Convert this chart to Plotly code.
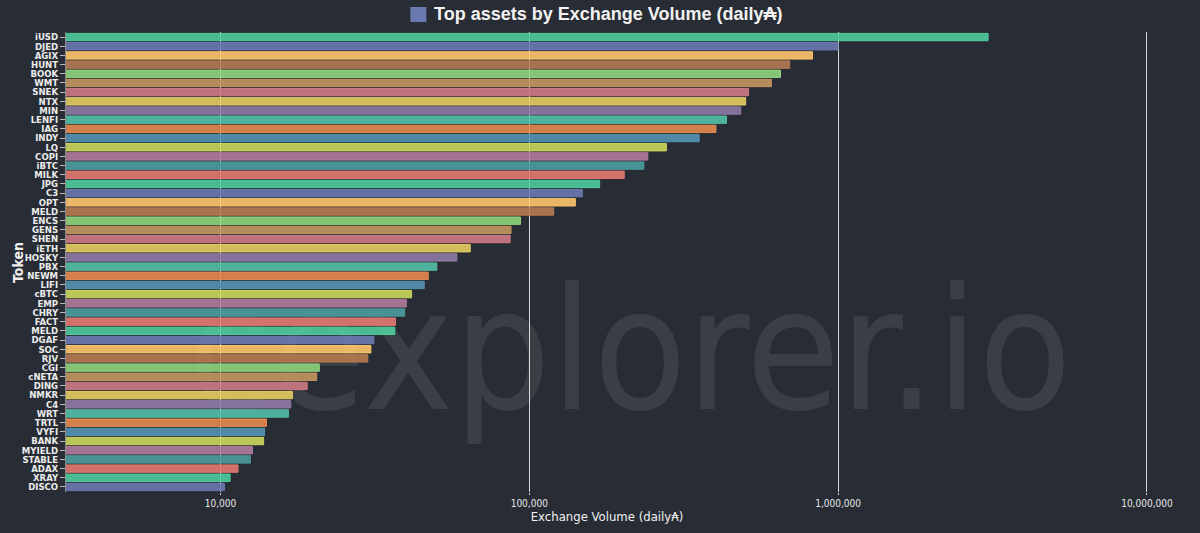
import plotly.graph_objects as go

tokens = ["iUSD", "DJED", "AGIX", "HUNT", "BOOK", "WMT", "SNEK", "NTX", "MIN", "LENFI",
          "IAG", "INDY", "LQ", "COPI", "iBTC", "MILK", "JPG", "C3", "OPT", "MELD",
          "ENCS", "GENS", "SHEN", "iETH", "HOSKY", "PBX", "NEWM", "LIFI", "cBTC", "EMP",
          "CHRY", "FACT", "MELD", "DGAF", "SOC", "RJV", "CGI", "cNETA", "DING", "NMKR",
          "C4", "WRT", "TRTL", "VYFI", "BANK", "MYIELD", "STABLE", "ADAX", "XRAY", "DISCO"]

volumes = [3060000, 1000000, 826000, 697000, 651000, 608000, 513000, 502000, 484000, 435000,
           402000, 355000, 278000, 242000, 235000, 203000, 169000, 148500, 141000, 120000,
           93700, 87300, 86700, 64400, 58300, 50200, 47100, 45700, 41600, 40000,
           39500, 36900, 36700, 31400, 30700, 30000, 20900, 20500, 19100, 17100,
           16900, 16600, 14100, 13900, 13800, 12700, 12500, 11400, 10750, 10300]

palette = ["#4fcc9c", "#6b79b1", "#fdc56c", "#b77a51", "#8fd47e", "#c3965f", "#cd7a84", "#e4cd62",
           "#8f7aa6", "#53bfa7", "#e68a4f", "#5393b1", "#cbd65c", "#b07b9b", "#4b9c9e", "#e3796f"]

x_tick_vals = [10000, 100000, 1000000, 10000000]
x_tick_text = ["10,000", "100,000", "1,000,000", "10,000,000"]

chart_title = "Top assets by Exchange Volume (daily₳)"
x_title = "Exchange Volume (daily₳)"
y_title = "Token"
watermark = "cexplorer.io"

BG = "#282c34"
COND = "DejaVu Sans Condensed, DejaVu Sans, sans-serif"

# plot area in pixels (for paper-coordinate conversions of decorations)
PL, PR, PT, PB = 66, 1147, 32, 492
PW, PH = PR - PL, PB - PT


def hex_rgba(h, a):
    h = h.lstrip("#")
    r, g, b = int(h[0:2], 16), int(h[2:4], 16), int(h[4:6], 16)
    return f"rgba({r},{g},{b},{a})"


ypos = list(range(len(tokens)))
colors = [palette[i % len(palette)] for i in ypos]
fills = [hex_rgba(c, 0.9) for c in colors]

fig = go.Figure()

# watermark on base subplot (drawn below bars)
fig.add_trace(go.Scatter(
    x=[(1071 - PL) / PW], y=[(PB - 366) / PH], mode="text", text=[watermark],
    textposition="middle left",
    textfont=dict(size=170, family=COND, color="rgba(255,255,255,0.085)"),
    hoverinfo="skip", showlegend=False, cliponaxis=False, xaxis="x", yaxis="y"))

fig.add_trace(go.Bar(
    x=volumes, y=ypos, orientation="h", width=0.8,
    marker=dict(color=fills, line=dict(color=colors, width=1)),
    showlegend=False, xaxis="x2", yaxis="y2",
    hovertext=tokens, hoverinfo="text+x"))

fig.update_layout(
    width=1200, height=533,
    paper_bgcolor=BG, plot_bgcolor=BG,
    margin=dict(l=PL, r=1200 - PR - 1, t=PT, b=533 - PB),
    showlegend=False,
    xaxis=dict(range=[0, 1], visible=False, fixedrange=True),
    yaxis=dict(range=[0, 1], visible=False, fixedrange=True),
    xaxis2=dict(
        overlaying="x", anchor="y2", side="bottom", automargin=False,
        type="log", range=[3.5, 7.0035],
        tickvals=x_tick_vals, ticktext=x_tick_text,
        showgrid=True, gridcolor="#d6d6d6", gridwidth=1,
        ticks="outside", ticklen=2, tickcolor="#d6d6d6",
        tickfont=dict(family=COND, size=10, color="#e6e6e6"),
        zeroline=False, showline=False,
        title=dict(text=x_title, standoff=2,
                   font=dict(family=COND, size=13, color="#f0f0f0")),
    ),
    yaxis2=dict(
        overlaying="y", anchor="x2", automargin=False,
        range=[len(tokens) - 0.45, -0.55],
        tickvals=ypos, ticktext=tokens,
        showgrid=False, zeroline=False,
        showline=True, linecolor="#8a8a8a", linewidth=1,
        ticks="outside", ticklen=5, tickcolor="#bbbbbb",
        tickfont=dict(family=COND, size=9.5, color="#ececec", weight="bold"),
    ),
)

# y-axis title
fig.add_annotation(text=y_title, xref="paper", yref="paper",
                   x=(18 - PL) / PW, y=0.5, xanchor="center", yanchor="middle",
                   textangle=-90, showarrow=False,
                   font=dict(family=COND, size=14, color="#f0f0f0", weight="bold"))

# legend-style title: colored square + bold text
fig.add_shape(type="rect", xref="paper", yref="paper",
              x0=(410 - PL) / PW, x1=(426 - PL) / PW,
              y0=(PB - 22) / PH, y1=(PB - 7) / PH,
              fillcolor=palette[1], line=dict(color=palette[1], width=0))
fig.add_annotation(text="<b>" + chart_title + "</b>", xref="paper", yref="paper",
                   x=(432 - PL) / PW, y=(PB - 14.5) / PH,
                   xanchor="left", yanchor="middle", showarrow=False,
                   font=dict(family="Liberation Sans, Arial, sans-serif", size=18, color="#f2f2f2"))

fig.write_html("out.html")
